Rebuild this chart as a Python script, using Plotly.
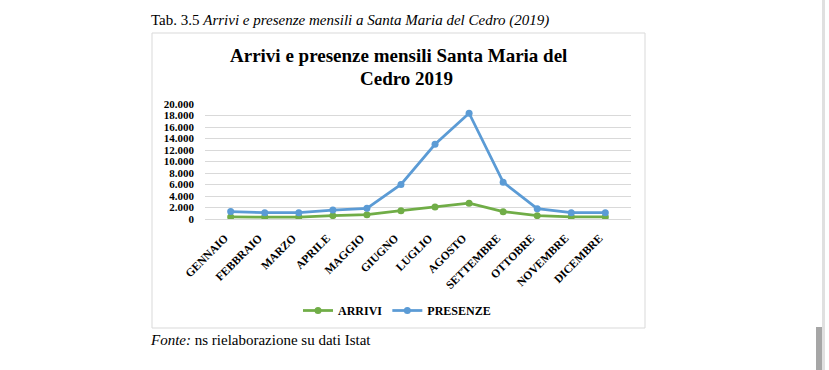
import plotly.graph_objects as go

mesi = ["GENNAIO", "FEBBRAIO", "MARZO", "APRILE", "MAGGIO", "GIUGNO", "LUGLIO",
        "AGOSTO", "SETTEMBRE", "OTTOBRE", "NOVEMBRE", "DICEMBRE"]
arrivi = [350, 330, 330, 580, 750, 1450, 2100, 2750, 1280, 580, 350, 350]
presenze = [1300, 1100, 1100, 1550, 1850, 6000, 13000, 18400, 6400, 1800, 1100, 1100]
y_ticks = list(range(0, 20001, 2000))

W, H = 829, 370
L, R, T, B = 205, 631, 104, 219

def px(x):
    return (x - L) / (R - L)

def py(y):
    return (B - y) / (B - T)

SERIF = "Liberation Serif, Times New Roman, serif"
GREEN = "#70AD47"
BLUE = "#5B9BD5"

fig = go.Figure()
fig.add_trace(go.Scatter(x=mesi, y=arrivi, name="ARRIVI", mode="lines+markers",
                         line=dict(color=GREEN, width=2.75),
                         marker=dict(size=7, color=GREEN)))
fig.add_trace(go.Scatter(x=mesi, y=presenze, name="PRESENZE", mode="lines+markers",
                         line=dict(color=BLUE, width=2.75),
                         marker=dict(size=7, color=BLUE)))

fig.update_layout(
    width=W, height=H,
    margin=dict(l=L, r=W - R, t=T, b=H - B, pad=0),
    paper_bgcolor="white", plot_bgcolor="white",
    separators=",.",
    font=dict(family=SERIF, color="black"),
    showlegend=True,
    legend=dict(orientation="h", x=px(298), y=py(310.5), xanchor="left", yanchor="middle",
                font=dict(family=SERIF, size=12, weight="bold"),
                bgcolor="rgba(0,0,0,0)", itemwidth=30, tracegroupgap=0),
    xaxis=dict(type="category", tickangle=-45, showgrid=False, showline=True,
               linecolor="#d9d9d9", linewidth=1, ticks="", ticklabelstandoff=7,
               ticklabelshift=-6,
               tickfont=dict(family=SERIF, size=11.5, weight="bold", color="black"),
               fixedrange=True),
    yaxis=dict(range=[0, 20000], tickvals=y_ticks, tickformat=",d", showgrid=True,
               gridcolor="#d9d9d9", gridwidth=1, zeroline=False, showline=False,
               ticks="", ticklabelstandoff=10,
               tickfont=dict(family=SERIF, size=11, weight="bold", color="black"),
               fixedrange=True),
)

# chart frame
fig.add_shape(type="rect", xref="paper", yref="paper",
              x0=px(152), x1=px(645), y0=py(328), y1=py(33),
              line=dict(color="#d9d9d9", width=1), fillcolor="rgba(0,0,0,0)", layer="below")

# scrollbar strip on the right
fig.add_shape(type="rect", xref="paper", yref="paper",
              x0=px(822), x1=px(825), y0=py(370), y1=py(0),
              line=dict(width=0), fillcolor="#e0e0e0")
fig.add_shape(type="rect", xref="paper", yref="paper",
              x0=px(816), x1=px(822), y0=py(370), y1=py(327),
              line=dict(width=0), fillcolor="#a6a6a6")

anns = [
    dict(text="Tab. 3.5 <i>Arrivi e presenze mensili a Santa Maria del Cedro (2019)</i>",
         x=px(149), y=py(31), xanchor="left", yanchor="bottom", size=15),
    dict(text="<b>Arrivi e presenze mensili Santa Maria del</b>",
         x=px(398), y=py(56), xanchor="center", yanchor="middle", size=19),
    dict(text="<b>Cedro 2019</b>",
         x=px(406), y=py(78), xanchor="center", yanchor="middle", size=19),
    dict(text="<i>Fonte:</i> ns rielaborazione su dati Istat",
         x=px(148), y=py(340), xanchor="left", yanchor="middle", size=15),
]
for a in anns:
    fig.add_annotation(text=a["text"], x=a["x"], y=a["y"], xref="paper", yref="paper",
                       xanchor=a["xanchor"], yanchor=a["yanchor"], showarrow=False,
                       font=dict(family=SERIF, size=a["size"], color="black"))

fig.write_html("out.html", config={"displayModeBar": False, "staticPlot": True},
               post_script="document.body.style.margin='0';document.body.style.padding='0';")
